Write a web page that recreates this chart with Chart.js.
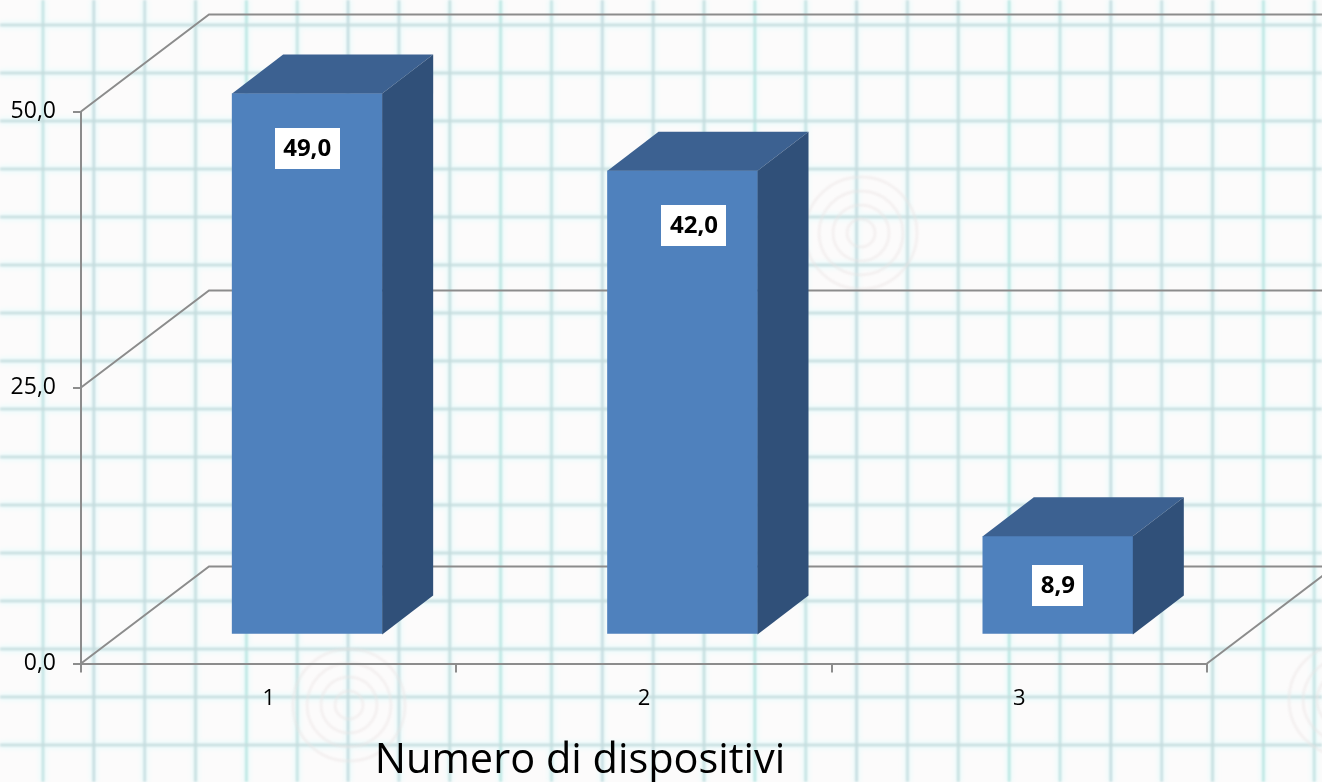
<!DOCTYPE html>
<html>
<head>
<meta charset="utf-8">
<style>
html,body{margin:0;padding:0;width:1322px;height:782px;overflow:hidden;background:#fcfbfb}
#bg{position:absolute;left:0;top:0}
#wrap{position:absolute;left:0;top:0;width:1322px;height:782px}
</style>
<script src="https://cdn.jsdelivr.net/npm/chart.js@4"></script>
</head>
<body>
<svg id="bg" width="1322" height="782" xmlns="http://www.w3.org/2000/svg">
  <defs><filter id="b"><feGaussianBlur stdDeviation="0.8"/></filter><filter id="f"><feGaussianBlur stdDeviation="2"/></filter></defs>
  <g id="fringe" filter="url(#f)"></g>
  <g id="paper" filter="url(#b)"></g>
  <g id="marks" fill="none" stroke="#ebe4e4" stroke-width="2.5" opacity="0.55" filter="url(#b)"></g>
</svg>
<div id="wrap"><canvas id="c" width="1322" height="782"></canvas></div>
<script>
// Chart data
const categories = ["1", "2", "3"];
const values = [49.0, 42.0, 8.9];
const yTickValues = [0, 25, 50];
const axisTitle = "Numero di dispositivi";

// Squared-paper backdrop
const NS = "http://www.w3.org/2000/svg";
const paper = document.getElementById("paper");
const fringe = document.getElementById("fringe");
function rule(parent, x1, y1, x2, y2, color, width) {
  const l = document.createElementNS(NS, "line");
  l.setAttribute("x1", x1); l.setAttribute("x2", x2);
  l.setAttribute("y1", y1); l.setAttribute("y2", y2);
  l.setAttribute("stroke", color);
  l.setAttribute("stroke-width", width);
  parent.appendChild(l);
}
const tintsV = ["#c0e0e0", "#c0d9dd", "#c3dcdf", "#c0dbdc", "#b6e4e0"];
for (let i = 0; i < 27; i++) {
  const x = 43 + 50.85 * i;
  rule(fringe, x, 0, x, 782, "#eefbfb", 8);
  rule(paper, x, 0, x, 782, tintsV[i % tintsV.length], 2.4);
}
for (let i = 0; i < 17; i++) {
  const y = 25 + 48 * i;
  rule(fringe, 0, y, 1322, y, "#eefbfb", 8);
  rule(paper, 0, y, 1322, y, "#c4dcdd", 2.4);
}
const marks = document.getElementById("marks");
[[349, 705], [861, 233], [1345, 700]].forEach(function (c) {
  [14, 28, 42, 56].forEach(function (r) {
    const k = document.createElementNS(NS, "circle");
    k.setAttribute("cx", c[0]); k.setAttribute("cy", c[1]); k.setAttribute("r", r);
    marks.appendChild(k);
  });
});

const fontFamily = '"Open Sans", sans-serif';
const lineGrey = "#8c8c8c";
const depth = { x: 128, y: 97 };       // wall depth
const barShift = { x: 38.5, y: 29 };   // bar sits inside the floor
const barDepth = { x: 51, y: 39 };
const labelNudgeX = [0, 11.5, 0];      // the middle label sits right of its bar

const scene3d = {
  id: "scene3d",
  beforeDatasetsDraw(chart) {
    const { ctx, scales: { x, y } } = chart;
    const x0 = x.left, x1 = x.right;
    ctx.save();
    ctx.strokeStyle = lineGrey;
    ctx.lineWidth = 2;
    y.ticks.forEach(function (t) {
      const py = y.getPixelForValue(t.value);
      ctx.beginPath();
      ctx.moveTo(x0, py);
      ctx.lineTo(x0 + depth.x, py - depth.y);
      ctx.lineTo(chart.width, py - depth.y);
      ctx.stroke();
    });
    const py0 = y.getPixelForValue(0);
    ctx.beginPath();
    ctx.moveTo(x1, py0);
    ctx.lineTo(x1 + depth.x, py0 - depth.y);
    ctx.stroke();
    ctx.restore();
  },
  beforeDatasetDraw(chart) {
    chart.ctx.save();
    chart.ctx.translate(barShift.x, -barShift.y);
  },
  afterDatasetDraw(chart, args) {
    const ctx = chart.ctx;
    ctx.restore();
    const yScale = chart.scales.y;
    args.meta.data.forEach(function (bar) {
      const l = bar.x - bar.width / 2 + barShift.x;
      const r = bar.x + bar.width / 2 + barShift.x;
      const t = bar.y - barShift.y;
      const b = yScale.getPixelForValue(0) - barShift.y;
      ctx.fillStyle = "#3c6191";
      ctx.beginPath();
      ctx.moveTo(l, t);
      ctx.lineTo(l + barDepth.x, t - barDepth.y);
      ctx.lineTo(r + barDepth.x, t - barDepth.y);
      ctx.lineTo(r, t);
      ctx.closePath();
      ctx.fill();
      ctx.fillStyle = "#305079";
      ctx.beginPath();
      ctx.moveTo(r, t);
      ctx.lineTo(r + barDepth.x, t - barDepth.y);
      ctx.lineTo(r + barDepth.x, b - barDepth.y);
      ctx.lineTo(r, b);
      ctx.closePath();
      ctx.fill();
    });
  },
  afterDatasetsDraw(chart) {
    const ctx = chart.ctx;
    const yScale = chart.scales.y;
    const meta = chart.getDatasetMeta(0);
    ctx.save();
    ctx.textAlign = "center";
    ctx.textBaseline = "middle";
    ctx.font = "bold 24px " + fontFamily;
    meta.data.forEach(function (bar, i) {
      const txt = values[i].toFixed(1).replace(".", ",");
      const cx = bar.x + barShift.x + labelNudgeX[i];
      const t = bar.y - barShift.y;
      const b = yScale.getPixelForValue(0) - barShift.y;
      const cy = Math.min(t + 54.5, (t + b) / 2);
      const w = ctx.measureText(txt).width + 17;
      ctx.fillStyle = "#ffffff";
      ctx.fillRect(Math.round(cx - w / 2), Math.round(cy - 20.5), Math.round(w), 41);
      ctx.fillStyle = "#000000";
      ctx.fillText(txt, cx, cy + 1);
    });
    ctx.restore();
  },
  afterDraw(chart) {
    const ctx = chart.ctx;
    ctx.save();
    ctx.font = "41.5px " + fontFamily;
    ctx.fillStyle = "#000000";
    ctx.textAlign = "center";
    ctx.textBaseline = "alphabetic";
    ctx.fillText(axisTitle, 580, 773);
    ctx.restore();
  }
};

new Chart(document.getElementById("c"), {
  type: "bar",
  data: {
    labels: categories,
    datasets: [{
      data: values,
      backgroundColor: "#4f81bd",
      borderWidth: 0,
      barThickness: 150,
      clip: false
    }]
  },
  options: {
    responsive: false,
    animation: false,
    layout: { padding: { left: 0, right: 115, top: 111.5, bottom: 0 } },
    plugins: { legend: { display: false }, tooltip: { enabled: false }, title: { display: false } },
    scales: {
      x: {
        afterFit(s) { s.height = 118.5; },
        border: { color: lineGrey, width: 2 },
        grid: { display: true, drawOnChartArea: false, drawTicks: true, tickLength: 9, color: lineGrey, lineWidth: 2 },
        ticks: { color: "#000000", font: { family: fontFamily, size: 22 }, padding: 13, maxRotation: 0 }
      },
      y: {
        min: 0,
        max: 50,
        afterFit(s) { s.width = 81; },
        afterBuildTicks(s) { s.ticks = yTickValues.map(function (v) { return { value: v }; }); },
        border: { color: lineGrey, width: 2 },
        grid: { display: true, drawOnChartArea: false, drawTicks: true, tickLength: 8, color: lineGrey, lineWidth: 2 },
        ticks: {
          color: "#000000",
          font: { family: fontFamily, size: 23 },
          padding: 17,
          callback(v) { return Number(v).toFixed(1).replace(".", ","); }
        }
      }
    }
  },
  plugins: [scene3d]
});
</script>
</body>
</html>
